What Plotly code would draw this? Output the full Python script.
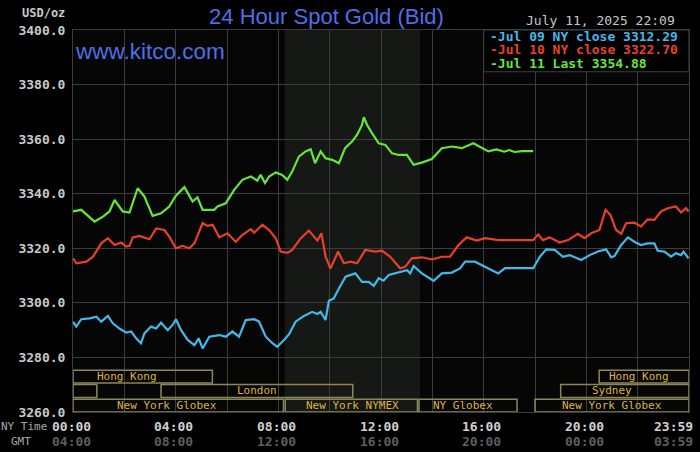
import plotly.graph_objects as go

# hours (NY time) and bid prices
t_jul09 = [0, 0.13, 0.32, 0.65, 0.91, 1.1, 1.36, 1.55, 1.81, 2.07, 2.27, 2.46, 2.65, 2.78, 3.04, 3.24,
           3.43, 3.69, 3.88, 4.01, 4.21, 4.47, 4.73, 4.9, 5.05, 5.31, 5.7, 5.95, 6.21, 6.47, 6.73,
           7.06, 7.25, 7.51, 7.77, 7.96, 8.22, 8.42, 8.67, 9.0, 9.32, 9.52, 9.65, 9.84, 9.97, 10.16,
           10.36, 10.62, 11.0, 11.26, 11.52, 11.72, 11.91, 12.1, 12.3, 12.69, 13.01, 13.14, 13.27,
           13.59, 14.05, 14.37, 14.76, 15.08, 15.28, 15.66, 15.92, 16.18, 16.57, 16.83, 17.93, 18.19,
           18.44, 18.77, 19.09, 19.35, 19.8, 20.13, 20.45, 20.77, 20.97, 21.1, 21.36, 21.62, 21.87,
           22.13, 22.39, 22.65, 22.78, 23.04, 23.3, 23.49, 23.69, 23.79, 23.98]
p_jul09 = [3293.1, 3291.3, 3294.0, 3294.3, 3294.9, 3293.1, 3295.2, 3292.5, 3290.6, 3289.1, 3289.5,
           3287.0, 3285.2, 3288.8, 3291.3, 3290.6, 3292.7, 3290.0, 3291.9, 3294.0, 3290.0, 3286.4,
           3284.5, 3287.0, 3283.3, 3287.6, 3288.2, 3287.6, 3289.5, 3287.6, 3293.7, 3294.0, 3293.1,
           3287.6, 3285.2, 3283.9, 3286.4, 3288.5, 3293.1, 3295.2, 3296.7, 3295.9, 3296.7, 3293.7,
           3300.8, 3301.6, 3305.3, 3309.6, 3310.8, 3307.7, 3307.7, 3306.2, 3309.0, 3308.1, 3310.2,
           3311.1, 3312.0, 3310.8, 3313.5, 3310.8, 3308.1, 3310.8, 3311.1, 3312.6, 3315.1, 3315.1,
           3313.9, 3312.7, 3310.8, 3312.7, 3312.7, 3316.9, 3319.6, 3319.4, 3316.9, 3317.5, 3315.7,
           3317.5, 3318.8, 3319.6, 3316.7, 3317.2, 3321.2, 3324.0, 3322.4, 3321.2, 3321.8, 3321.8,
           3319.1, 3318.8, 3316.9, 3318.2, 3317.5, 3318.8, 3316.3]

t_jul10 = [0, 0.13, 0.52, 0.78, 1.1, 1.36, 1.62, 1.88, 2.07, 2.2, 2.33, 2.59, 2.98, 3.24, 3.56, 3.75,
           4.01, 4.27, 4.53, 4.73, 5.05, 5.24, 5.44, 5.7, 6.02, 6.34, 6.6, 6.93, 7.06, 7.38, 7.64,
           7.9, 8.09, 8.35, 8.54, 8.87, 9.19, 9.32, 9.52, 9.68, 9.84, 10.03, 10.23, 10.33, 10.55,
           10.81, 11.07, 11.39, 11.78, 12.04, 12.36, 12.75, 12.95, 13.2, 13.59, 13.98, 14.37, 14.69,
           15.02, 15.34, 15.73, 16.05, 16.57, 17.93, 18.12, 18.31, 18.57, 18.96, 19.29, 19.67, 19.93,
           20.19, 20.51, 20.75, 20.94, 21.16, 21.36, 21.55, 21.87, 22.13, 22.39, 22.65, 22.91, 23.17,
           23.49, 23.69, 23.88, 23.98]
p_jul10 = [3316.3, 3314.5, 3315.1, 3316.9, 3321.8, 3323.7, 3321.2, 3322.1, 3320.6, 3320.9, 3324.0,
           3324.5, 3323.3, 3327.3, 3326.7, 3324.3, 3320.0, 3320.9, 3320.0, 3321.8, 3329.2, 3328.2,
           3328.6, 3324.0, 3325.5, 3322.4, 3324.9, 3327.0, 3325.7, 3328.6, 3326.7, 3323.7, 3318.8,
           3318.3, 3319.4, 3323.6, 3326.5, 3324.9, 3322.8, 3325.5, 3316.9, 3312.6, 3316.9, 3318.8,
           3314.5, 3315.1, 3314.5, 3319.4, 3318.8, 3319.1, 3316.9, 3312.6, 3313.3, 3316.3, 3316.7,
           3315.9, 3316.9, 3316.9, 3321.2, 3324.0, 3322.8, 3323.7, 3323.0, 3323.0, 3325.1, 3323.0,
           3324.0, 3322.1, 3323.0, 3325.3, 3323.7, 3325.5, 3326.7, 3334.1, 3332.2, 3326.7, 3325.3,
           3329.2, 3329.4, 3328.0, 3330.6, 3330.4, 3333.5, 3334.7, 3335.3, 3333.1, 3334.7, 3333.5]

t_jul11 = [0, 0.32, 0.84, 1.17, 1.42, 1.62, 1.94, 2.2, 2.52, 2.78, 3.1, 3.43, 3.75, 4.0, 4.34, 4.66,
           4.85, 5.05, 5.5, 5.63, 5.95, 6.28, 6.6, 6.93, 7.18, 7.31, 7.48, 7.64, 7.9, 8.15, 8.35,
           8.54, 8.8, 9.06, 9.26, 9.43, 9.65, 9.84, 10.1, 10.36, 10.6, 10.87, 11.07, 11.26, 11.33,
           11.46, 11.65, 11.91, 12.17, 12.43, 12.69, 13.01, 13.27, 13.59, 13.98, 14.37, 14.76, 15.15,
           15.6, 15.92, 16.18, 16.5, 16.8, 17.0, 17.2, 17.5, 17.93]
p_jul11 = [3333.5, 3334.1, 3329.8, 3331.6, 3333.5, 3337.7, 3333.5, 3333.1, 3342.0, 3339.0, 3331.9,
           3332.8, 3335.3, 3339.2, 3342.4, 3337.1, 3338.7, 3334.1, 3334.1, 3335.3, 3336.5, 3341.4,
           3345.1, 3346.3, 3344.8, 3346.9, 3343.9, 3346.3, 3347.8, 3346.9, 3345.1, 3348.1, 3353.6,
           3355.5, 3356.3, 3351.2, 3355.5, 3353.0, 3352.4, 3351.2, 3356.7, 3359.1, 3361.6, 3365.2,
           3368.0, 3365.2, 3362.2, 3358.5, 3357.9, 3354.8, 3354.2, 3354.2, 3350.6, 3351.4, 3352.7,
           3356.7, 3357.3, 3356.7, 3358.5, 3356.7, 3355.5, 3356.2, 3355.4, 3356.0, 3355.3, 3355.6,
           3355.6]

series_names = ["Jul 09 NY close", "Jul 10 NY close", "Jul 11 Last"]
series_last = [3312.29, 3322.70, 3354.88]
series_colors = ["#45b8ea", "#e8402a", "#66e63a"]

# trading sessions: label, start hour, end hour, row (1 = top), label position
sessions = [
    ("Hong Kong", 0, 5.43, 1, 2.1),
    ("", 0, 0.93, 2, None),
    ("London", 3.43, 10.9, 2, 7.15),
    ("New York Globex", 0, 8.2, 3, 3.65),
    ("New York NYMEX", 8.27, 13.42, 3, 10.88),
    ("NY Globex", 13.48, 17.3, 3, 15.2),
    ("New York Globex", 18.0, 24, 3, 21.0),
    ("Sydney", 19.0, 24, 2, 21.0),
    ("Hong Kong", 20.5, 24, 1, 22.05),
]
row_bounds = {1: (3270.6, 3275.3), 2: (3265.3, 3270.1), 3: (3260.0, 3264.7)}

ny_ticks = [0, 4, 8, 12, 16, 20, 24]
ny_labels = ["00:00", "04:00", "08:00", "12:00", "16:00", "20:00", "23:59"]
gmt_labels = ["04:00", "08:00", "12:00", "16:00", "20:00", "00:00", "03:59"]

mono = "DejaVu Sans Mono"
gold = "#dcb43c"
box = "#8c875a"

fig = go.Figure()
for t, p, name, col in zip([t_jul09, t_jul10, t_jul11], [p_jul09, p_jul10, p_jul11],
                           series_names, series_colors):
    fig.add_trace(go.Scatter(x=t, y=p, mode="lines", name=name,
                             line=dict(color=col, width=2.2)))

# NYMEX pit hours shading
fig.add_shape(type="rect", x0=8.25, x1=13.52, y0=3260, y1=3400, xref="x", yref="y",
              fillcolor="#151815", line_width=0, layer="below")

for label, s, e, row, lx in sessions:
    y0, y1 = row_bounds[row]
    fig.add_shape(type="rect", x0=s, x1=e, y0=y0, y1=y1, xref="x", yref="y",
                  line=dict(color=box, width=1.5), layer="above")
    if label:
        fig.add_annotation(x=lx, y=(y0 + y1) / 2, yanchor="middle", text=label,
                           showarrow=False, font=dict(family=mono, size=11, color=gold))

# legend box
fig.add_shape(type="rect", x0=16, x1=24, y0=3384.7, y1=3400, xref="x", yref="y",
              fillcolor="#000000", line=dict(color="#404040", width=1), layer="above")
for i, (name, last, col) in enumerate(zip(series_names, series_last, series_colors)):
    fig.add_annotation(x=16, y=3397.8 - i * 4.95, xanchor="left", yanchor="middle", xshift=5,
                       text=f"-{name} {last:.2f}", showarrow=False, borderpad=0,
                       font=dict(family=mono, size=13, color=col, weight="bold"))

for h, ny, gmt in zip(ny_ticks, ny_labels, gmt_labels):
    anchor = "right" if h == 24 else "center"
    shift = 6 if h == 24 else -2
    fig.add_annotation(x=h, y=-0.039, yref="paper", xanchor=anchor, yanchor="middle",
                       xshift=shift, text=ny, showarrow=False,
                       font=dict(family=mono, size=13, color="#d0d0d0", weight="bold"))
    fig.add_annotation(x=h, y=-0.076, yref="paper", xanchor=anchor, yanchor="middle",
                       xshift=shift, text=gmt, showarrow=False,
                       font=dict(family=mono, size=13, color="#5e5e5e", weight="bold"))

fig.add_annotation(x=-0.0792, y=-0.039, xref="paper", yref="paper", xanchor="center",
                   yanchor="middle", text="NY Time", showarrow=False,
                   font=dict(family=mono, size=11, color="#a8a8a8"))
fig.add_annotation(x=-0.0841, y=-0.076, xref="paper", yref="paper", xanchor="center",
                   yanchor="middle", text="GMT", showarrow=False,
                   font=dict(family=mono, size=11, color="#a8a8a8"))
fig.add_annotation(x=-0.0102, y=1.0445, xref="paper", yref="paper", xanchor="right",
                   yanchor="middle", text="USD/oz", showarrow=False,
                   font=dict(family=mono, size=12, color="#c8c8c8", weight="bold"))
fig.add_annotation(x=0.9805, y=1.0236, xref="paper", yref="paper", xanchor="right",
                   yanchor="middle", text="July 11, 2025 22:09", showarrow=False,
                   font=dict(family=mono, size=13, color="#c8c8c8"))
fig.add_annotation(x=0.0, y=0.945, xref="paper", yref="paper", xanchor="left",
                   yanchor="middle", xshift=0, text="www.kitco.com", showarrow=False,
                   font=dict(family="Liberation Sans", size=22.5, color="#4d6fe8"))

fig.update_layout(
    width=700, height=452,
    margin=dict(l=73, r=11, t=30, b=40),
    paper_bgcolor="#000000", plot_bgcolor="#060606",
    showlegend=False,
    title=dict(text="24 Hour Spot Gold (Bid)", x=326.5 / 700, xanchor="center",
               xref="container", y=1 - 16.5 / 452, yanchor="middle", yref="container",
               font=dict(family="Liberation Sans", size=22, color="#4d6fe8")),
)
fig.update_xaxes(range=[0, 24], tickvals=list(range(0, 25, 2)), showticklabels=False,
                 showgrid=True, gridcolor="#3c3c3c", gridwidth=1, zeroline=False,
                 showline=True, linecolor="#3c3c3c", mirror=True, ticks="", automargin=False)
fig.update_yaxes(range=[3260, 3400], dtick=20, tickformat=".1f", showgrid=True,
                 gridcolor="#3c3c3c", gridwidth=1, zeroline=False, showline=True,
                 linecolor="#3c3c3c", mirror=True, ticks="", ticklabelstandoff=4,
                 automargin=False,
                 tickfont=dict(family=mono, size=13, color="#c8c8c8", weight="bold"))

# the page body has a default margin; remove it so the figure fills the window
fig.write_html("out.html", config={"displayModeBar": False},
               post_script="document.body.style.margin='0';document.body.style.background='#000';")
